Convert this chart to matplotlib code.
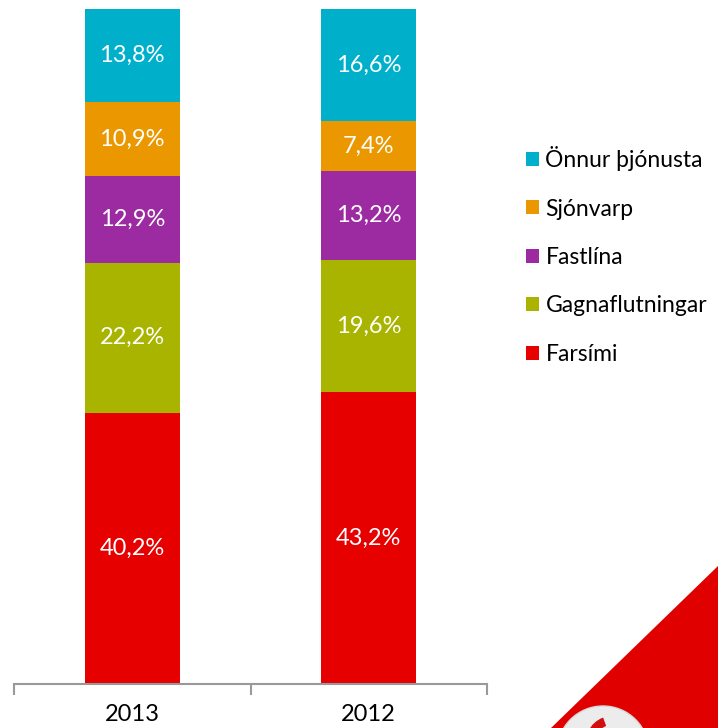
import matplotlib.pyplot as plt
from matplotlib.patches import Polygon, Circle, Wedge

years = ['2013', '2012']
categories = ['Farsími', 'Gagnaflutningar', 'Fastlína', 'Sjónvarp', 'Önnur þjónusta']
farsimi = [40.2, 43.2]
gagnaflutningar = [22.2, 19.6]
fastlina = [12.9, 13.2]
sjonvarp = [10.9, 7.4]
onnur = [13.8, 16.6]
series = [farsimi, gagnaflutningar, fastlina, sjonvarp, onnur]
colors = ['#E60000', '#A8B400', '#9C2AA0', '#EB9700', '#00B0CA']

plt.rcParams['font.family'] = ['Lato', 'DejaVu Sans']

W, H = 718, 728
fig = plt.figure(figsize=(W / 100, H / 100), dpi=100)
ax = fig.add_axes([14 / W, 44 / H, 473 / W, 675 / H])

x = range(len(years))
bottom = [0, 0]
handles = []
for name, vals, col in zip(categories, series, colors):
    bars = ax.bar(x, vals, 0.4, bottom=bottom, color=col, label=name)
    handles.append(bars)
    for i, v in enumerate(vals):
        ax.text(i, bottom[i] + v / 2, f'{v:.1f}%'.replace('.', ','),
                ha='center', va='center', color='white', fontsize=17)
    bottom = [b + v for b, v in zip(bottom, vals)]

ax.set_xlim(-0.5, 1.5)
ax.set_ylim(0, 100)
for s in ['top', 'right', 'left']:
    ax.spines[s].set_visible(False)
ax.spines['bottom'].set_color('#999999')
ax.spines['bottom'].set_linewidth(1.5)
ax.set_yticks([])
ax.set_xticks([-0.5, 0.5, 1.5])
ax.set_xticklabels([])
ax.tick_params(axis='x', length=8, width=1.5, color='#999999', direction='out')
for i, y in enumerate(years):
    ax.text(i, -3.0, y, ha='center', va='top', fontsize=17, color='black')

leg = fig.legend(handles[::-1], categories[::-1], loc='upper left',
                 bbox_to_anchor=(526 / W, 1 - 146 / H), frameon=False,
                 fontsize=16.5, handlelength=0.55, handleheight=0.55,
                 handletextpad=0.3, labelspacing=1.2,
                 borderpad=0, borderaxespad=0)


def px(x, y):
    return (x, H - y)


# decorative corner
fig.patches.append(Polygon([px(718, 566), px(551, 728), px(718, 728)], closed=True,
                           transform=None, facecolor='#E00000', edgecolor='none'))
fig.patches.append(Circle(px(603, 752), 46, transform=None, facecolor='#ECECEC',
                          edgecolor='#D8D8D8'))
fig.patches.append(Wedge(px(612, 742), 26, 110, 200, width=9, transform=None,
                         facecolor='#D01010', edgecolor='none'))

fig.savefig('out.png', dpi=100)
